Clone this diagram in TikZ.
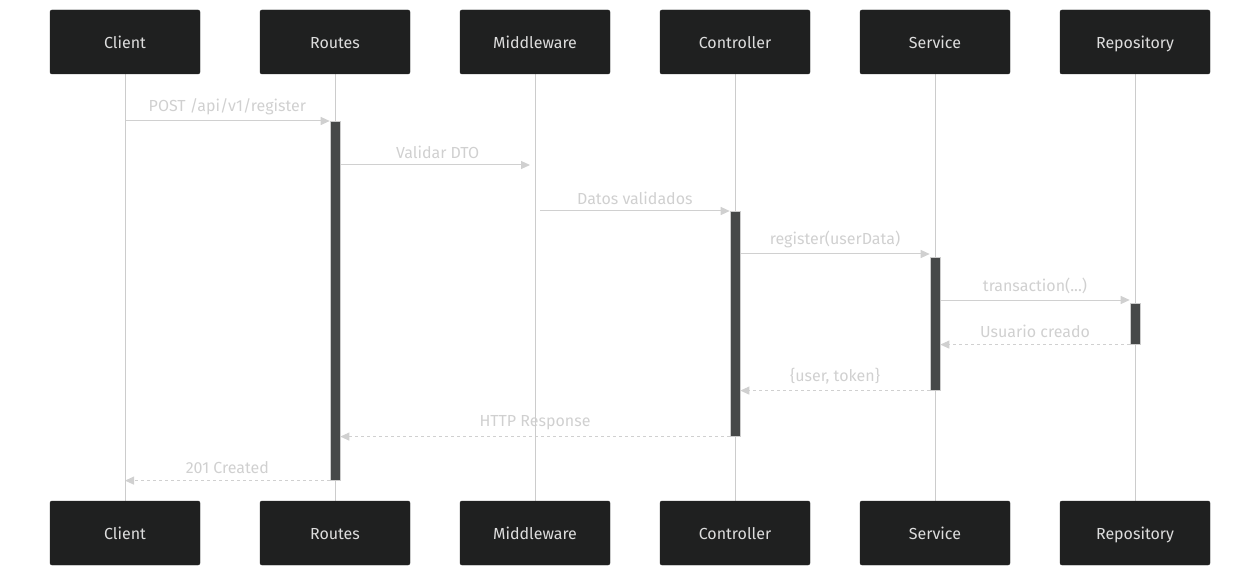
\documentclass[tikz,border=0pt]{standalone}
\usepackage{fontspec}
\setmainfont{Fira Sans}
\usetikzlibrary{
  arrows.meta,
  positioning
}
\definecolor{actorfill}{HTML}{1F2020}
\definecolor{actortext}{HTML}{DDDDDD}
\definecolor{lifegray}{HTML}{CCCCCC}
\definecolor{msggray}{HTML}{D0D0D0}
\definecolor{actgray}{HTML}{474949}
\pgfdeclarelayer{msgs}
\pgfdeclarelayer{lifes}
\pgfsetlayers{msgs,lifes,main}
\tikzset{
  >={Triangle[length=9pt,width=8pt]},
  actor/.style={draw=actorfill,fill=actorfill,rounded corners=2pt,minimum width=150pt,minimum height=64pt,text=actortext,font=\fontsize{16}{19}\selectfont,text height=13pt,text depth=0pt},
  life/.style={draw=lifegray,line width=1pt},
  activ/.style={draw=lifegray,fill=actgray,line width=0.6pt,minimum width=10pt,inner sep=0pt,anchor=north},
  msg/.style={draw=msggray,line width=1pt,->},
  reply/.style={msg,dash pattern=on 3pt off 3pt},
  lbl/.style={text=msggray,font=\fontsize{16}{19}\selectfont,above,inner sep=6pt}
}

\begin{document}
\begin{tikzpicture}[x=1pt,y=-1pt]
			\useasboundingbox (0,0) rectangle (1260,577);

			\foreach \name/\txt/\xpos in {client/Client/125,routes/Routes/335,middle/Middleware/535,ctrl/Controller/735,serv/Service/935,repo/Repository/1135}{
				\node[actor] (\name) at (\xpos,42) {\txt};
				\node[actor] (\name B) at (\xpos,533) {\txt};
			}

			\node[activ,minimum height=359pt] (routesAct) at (335,121) {};
			\node[activ,minimum height=225pt] (ctrlAct) at (735,211) {};
			\node[activ,minimum height=133pt] (servAct) at (935,257) {};
			\node[activ,minimum height=41pt] (repoAct) at (1135,303) {};

			\begin{pgfonlayer}{lifes}
				\foreach \name in {client,routes,middle,ctrl,serv,repo}
					\draw[life] (\name) -- (\name B);
			\end{pgfonlayer}

			\begin{pgfonlayer}{msgs}
				\draw[msg] (client |- routesAct.north) -- (routesAct.north west) node[lbl,midway] {POST /api/v1/register};
				\draw[msg,shorten >=5pt] (routesAct.east |- 0,165) -- (middle |- 0,165) node[lbl,midway] {Validar DTO};
				\draw[msg] (middle |- ctrlAct.north) ++(5,0) -- (ctrlAct.north west) node[lbl,midway] {Datos validados};
				\draw[msg] (ctrlAct.east |- 0,254) -- (servAct.west |- 0,254) node[lbl,midway] {register(userData)};
				\draw[msg] (servAct.east |- 0,300) -- (repoAct.west |- 0,300) node[lbl,midway] {transaction(...)};
				\draw[reply] (repoAct.south west) -- (servAct.east |- repoAct.south) node[lbl,midway] {Usuario creado};
				\draw[reply] (servAct.south west) -- (ctrlAct.east |- servAct.south) node[lbl,midway] {\{user, token\}};
				\draw[reply] (ctrlAct.south west) -- (routesAct.east |- ctrlAct.south) node[lbl,midway] {HTTP Response};
				\draw[reply] (routesAct.south west) -- (client |- routesAct.south) node[lbl,midway] {201 Created};
			\end{pgfonlayer}
		\end{tikzpicture}
\end{document}
